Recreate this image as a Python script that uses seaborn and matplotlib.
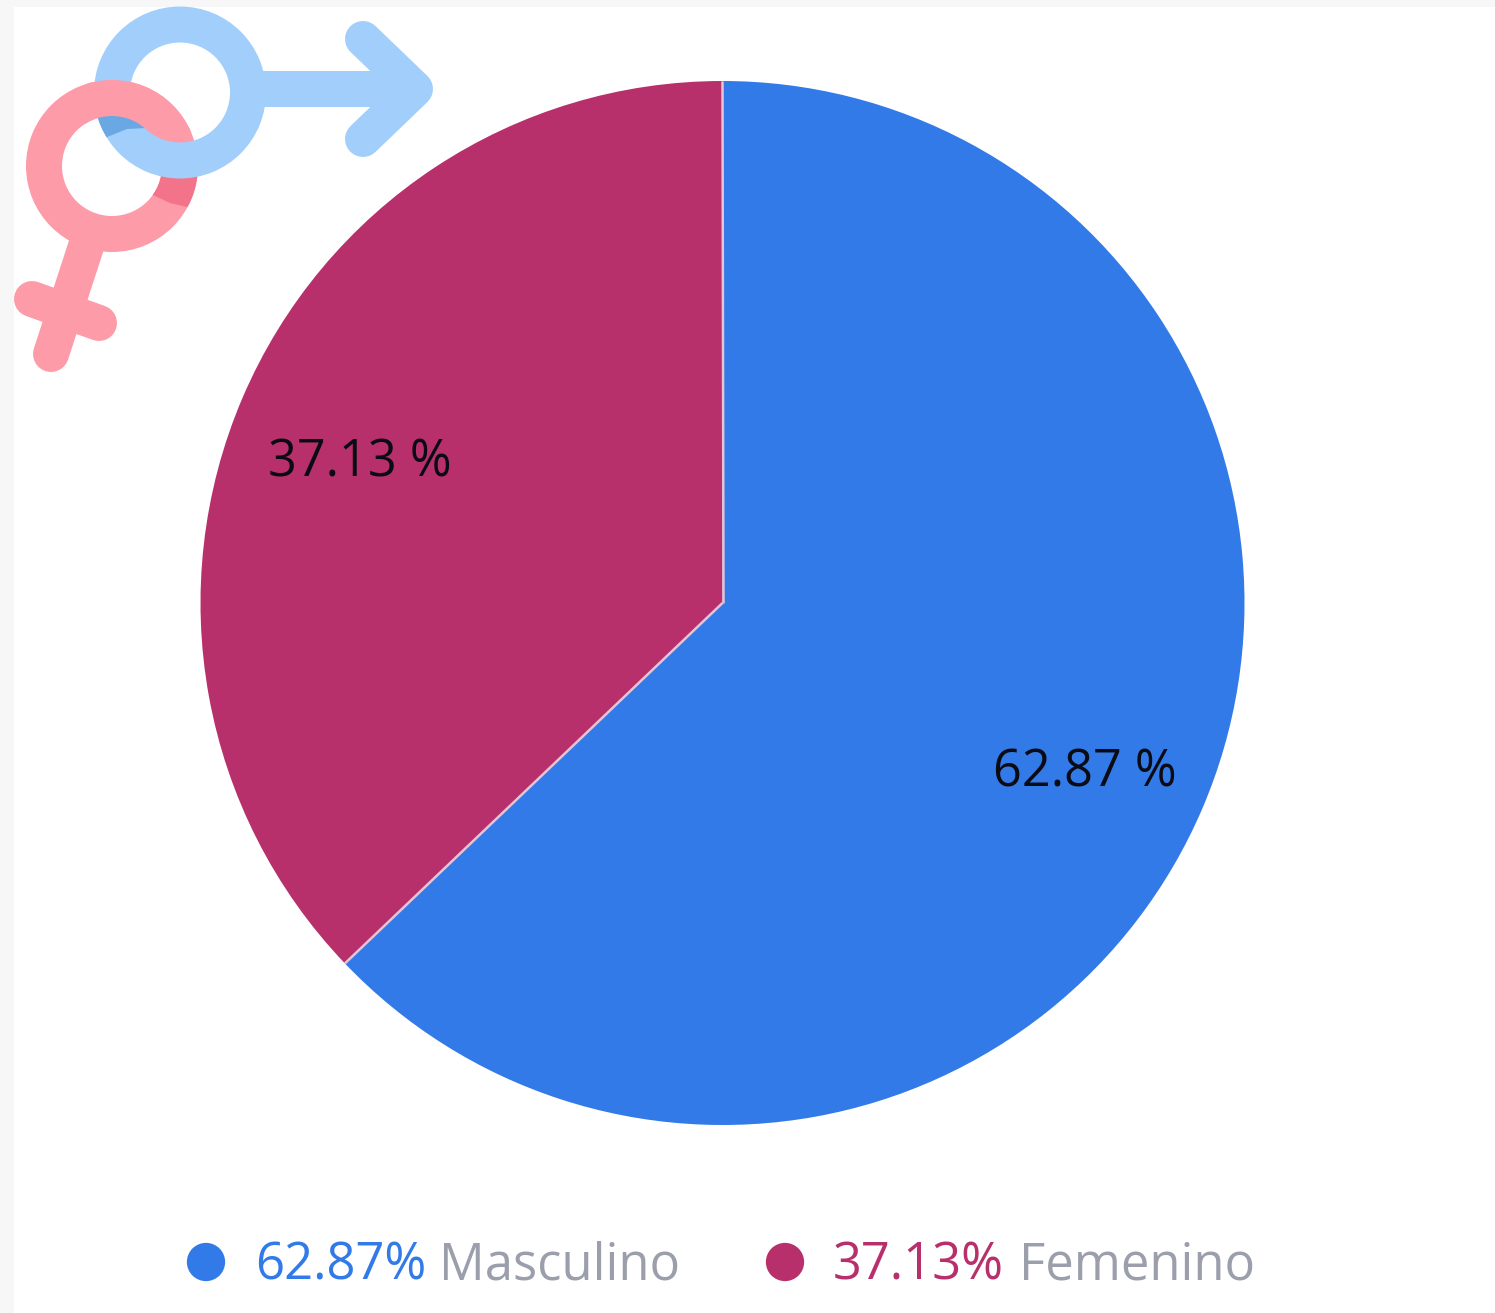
import math
import matplotlib
matplotlib.use("Agg")
import matplotlib.pyplot as plt
import seaborn as sns
from matplotlib.patches import Annulus, Rectangle, Polygon
from matplotlib.transforms import ScaledTranslation

# ---- data ----
genders = ["Masculino", "Femenino"]
shares = [62.87, 37.13]
colors = ["#327AE8", "#B8306B"]

W, H = 1495, 1313
sns.set_theme(style="white")
plt.rcParams["font.family"] = ["Open Sans", "DejaVu Sans"]
palette = sns.color_palette(colors)

fig = plt.figure(figsize=(W / 100, H / 100), dpi=100, facecolor="#F7F7F7")


def full_axes(label):
    a = fig.add_axes([0, 0, 1, 1], label=label)
    a.patch.set_alpha(0)
    return a


# white sheet
bg = full_axes("bg")
bg.set_xlim(0, W)
bg.set_ylim(H, 0)
bg.axis("off")
bg.add_patch(Rectangle((14, 7), W - 14, H - 7, facecolor="white", edgecolor="none"))

# pie (y axis points up so the wedge direction is the ordinary one)
ax = full_axes("pie")
CX, CY, RAD = 722.5, H - 603, 522
wedges, _, autotexts = ax.pie(
    shares,
    colors=palette,
    startangle=90,
    counterclock=False,
    center=(CX, CY),
    radius=RAD,
    autopct=lambda p: f"{p:.2f} %",
    pctdistance=0.755,
    wedgeprops=dict(edgecolor="none", linewidth=0),
    textprops=dict(fontsize=36.4, color="#0B0B14"),
)
shift = ScaledTranslation(0, -15 / 100, fig.dpi_scale_trans)
for t in autotexts:
    t.set_transform(t.get_transform() + shift)
# pale separators along the wedge boundaries
for w in wedges:
    a = math.radians(w.theta1)
    ax.plot([CX, CX + RAD * math.cos(a)], [CY, CY + RAD * math.sin(a)],
            color="#E6C4D6", lw=1.8, solid_capstyle="butt", zorder=5)
ax.set_xlim(0, W)
ax.set_ylim(0, H)
ax.axis("off")

# overlay in pixel coordinates: icon and legend
ov = full_axes("overlay")
ov.set_xlim(0, W)
ov.set_ylim(H, 0)
ov.axis("off")

PINK, PINK_D = "#FD9BA8", "#F3748A"
BLUE, BLUE_D = "#A1CEFB", "#69A8E3"
LW = 36 * 0.72
F_C, M_C = (112, 166), (180, 92.5)
R_OUT, R_W = 86, 36


def ring(center, color, z, clip=None):
    p = Annulus(center, R_OUT, R_W, facecolor=color, edgecolor="none", zorder=z)
    ov.add_patch(p)
    if clip is not None:
        cp = Polygon(clip, closed=True, transform=ov.transData, facecolor="none", edgecolor="none")
        p.set_clip_path(cp)
    return p


def stroke(xs, ys, color, z):
    ov.plot(xs, ys, color=color, lw=LW, solid_capstyle="round", solid_joinstyle="round", zorder=z)


# female symbol
stroke([91, 51], [231, 354], PINK, 3)
stroke([32, 99], [299, 323], PINK, 3)
ring(F_C, PINK, 3)
ring(F_C, PINK_D, 4, [(150, 150), (215, 150), (215, 218), (187, 207), (170, 203), (153, 195), (145, 190)])

# male symbol
ring(M_C, BLUE, 5)
ov.plot([250, 400], [89, 89], color=BLUE, lw=LW, solid_capstyle="butt", zorder=5)
stroke([363, 415, 363], [39, 89, 139], BLUE, 5)
ring(M_C, BLUE_D, 6, [(90, 100), (160, 100), (160, 128), (147, 128), (127, 129), (107, 137), (90, 150)])

# pink passes over blue at the upper-left crossing
ring(F_C, PINK, 7, [(85, 70), (200, 70), (200, 132), (85, 132)])

# legend
sns.scatterplot(
    x=[206, 785], y=[1262, 1262], hue=genders, palette=palette, hue_order=genders,
    s=760, linewidth=0, legend=False, ax=ov, zorder=8,
)
ov.set_xlim(0, W)
ov.set_ylim(H, 0)
ov.axis("off")

FS = 36.5
GREY = "#9A9FAB"
pos = [(255, 439), (833, 1019)]
for (x1, x2), g, s, c in zip(pos, genders, shares, colors):
    ov.text(x1, 1279, f"{s:.2f}%", color=c, fontsize=FS, va="baseline", ha="left", zorder=9)
    ov.text(x2, 1279, g, color=GREY, fontsize=FS, va="baseline", ha="left", zorder=9)

fig.savefig("out.png", dpi=100, facecolor=fig.get_facecolor())
